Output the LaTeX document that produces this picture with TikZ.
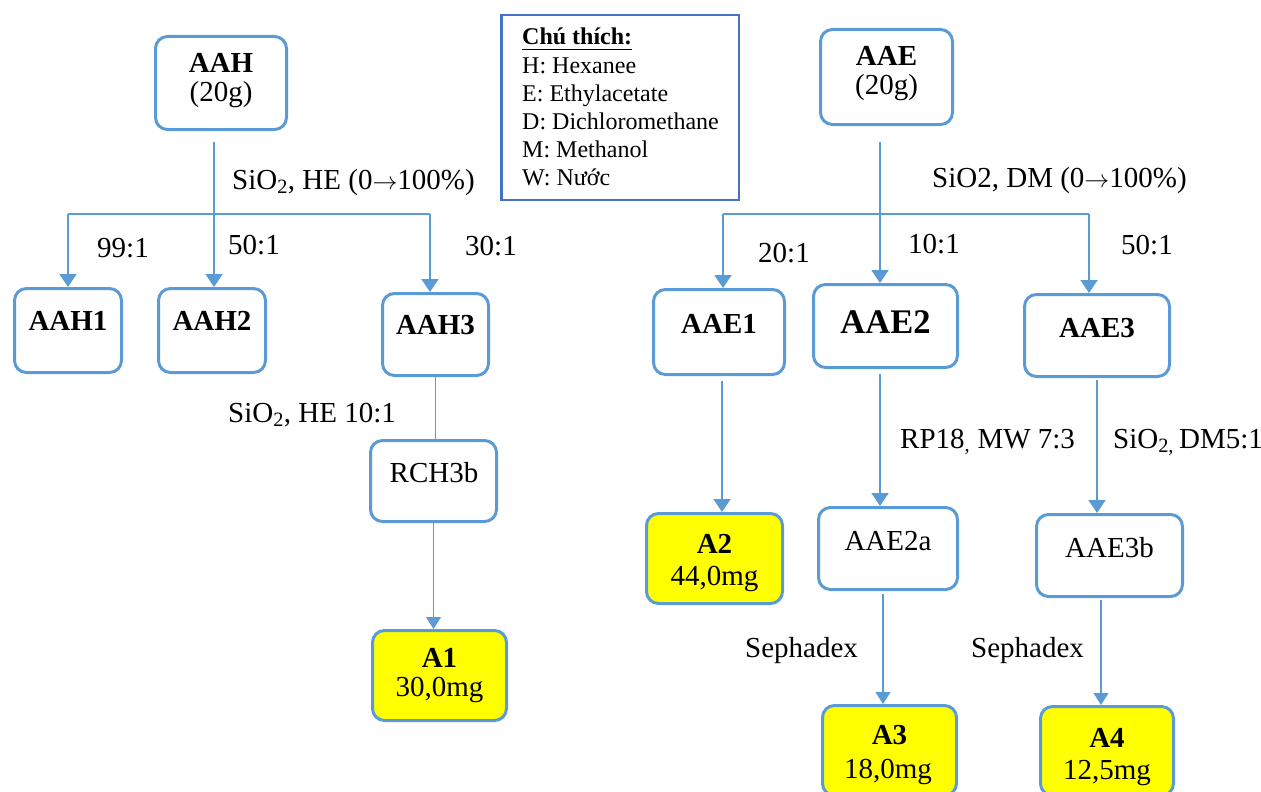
\documentclass[tikz,border=0pt]{standalone}
\usepackage{fontspec}
\setmainfont{Liberation Serif}
\usetikzlibrary{arrows.meta}
\definecolor{boxc}{HTML}{5B9BD5}
\definecolor{legc}{HTML}{4472C4}
\definecolor{yel}{HTML}{FFFF00}
\newcommand{\rarr}{\ensuremath{\rightarrow}}
\begin{document}
\begin{tikzpicture}[x=1pt,y=-1pt,
  box/.style={draw=boxc, line width=3pt, rounded corners=12pt, fill=white, inner sep=0pt},
  ybox/.style={box, fill=yel},
  txt/.style={font=\fontsize{29}{31}\selectfont, inner sep=0pt, anchor=base},
  btxt/.style={font=\fontsize{29}{31}\selectfont\bfseries, inner sep=0pt, anchor=base},
  bigtxt/.style={font=\fontsize{34.5}{36}\selectfont\bfseries, inner sep=0pt, anchor=base},
  lbl/.style={font=\fontsize{29}{31}\selectfont, inner sep=0pt, anchor=base west},
  legtxt/.style={font=\fontsize{24}{26}\selectfont, inner sep=0pt, anchor=base west},
  arr/.style={draw=boxc, line width=2pt, -{Triangle[width=17pt,length=13pt]}},
  tarr/.style={draw=boxc, line width=1.1pt, -{Triangle[width=15pt,length=12pt]}},
  tline/.style={draw=boxc, line width=1.1pt},
  bus/.style={draw=boxc, line width=2pt}]
\useasboundingbox (0,0) rectangle (1261,792);

% ---- left tree boxes ----
\node[box, minimum width=131pt, minimum height=93pt] (aah) at (221,83) {};
\node[btxt] (aaht) at (221,73) {AAH};
\node[txt] (aahm) at (221,101) {(20g)};

\node[box, minimum width=107pt, minimum height=84pt] (aah1) at (68,330.5) {};
\node[btxt] (aah1t) at (68,330) {AAH1};
\node[box, minimum width=107pt, minimum height=84pt] (aah2) at (212,330.5) {};
\node[btxt] (aah2t) at (212,330) {AAH2};
\node[box, minimum width=106pt, minimum height=82pt] (aah3) at (435.5,334.5) {};
\node[btxt] (aah3t) at (435.5,334) {AAH3};

\node[box, minimum width=126pt, minimum height=81pt] (rch) at (433.5,481) {};
\node[txt] (rcht) at (434,482) {RCH3b};

\node[ybox, minimum width=134pt, minimum height=90pt] (a1) at (439.5,675.5) {};
\node[btxt] (a1t) at (439.5,667) {A1};
\node[txt] (a1m) at (439.5,696) {30,0mg};

% ---- legend ----
\node[draw=legc, line width=2.5pt, fill=white, minimum width=237.5pt, minimum height=184.5pt, inner sep=0pt] (leg) at (620,107.5) {};
\node[legtxt, font=\fontsize{24}{26}\selectfont\bfseries] (leg0) at (522,45) {Chú thích:};
\draw[line width=1.3pt] ([yshift=-4.5pt]leg0.base west) -- ([yshift=-4.5pt]leg0.base east);
\node[legtxt] (leg1) at (522,74) {H: Hexanee};
\node[legtxt] (leg2) at (522,102) {E: Ethylacetate};
\node[legtxt] (leg3) at (522,129) {D: Dichloromethane};
\node[legtxt] (leg4) at (522,157) {M: Methanol};
\node[legtxt] (leg5) at (522,185) {W: Nước};

% ---- right tree boxes ----
\node[box, minimum width=132pt, minimum height=95pt] (aae) at (886.5,77) {};
\node[btxt] (aaet) at (886.5,66) {AAE};
\node[txt] (aaem) at (886.5,95) {(20g)};

\node[box, minimum width=131pt, minimum height=85pt] (aae1) at (719,332) {};
\node[btxt] (aae1t) at (719,333) {AAE1};
\node[box, minimum width=144pt, minimum height=83pt] (aae2) at (885.5,326) {};
\node[bigtxt] (aae2t) at (885.5,333) {AAE2};
\node[box, minimum width=145pt, minimum height=82pt] (aae3) at (1097,335.5) {};
\node[btxt] (aae3t) at (1097,337) {AAE3};

\node[ybox, minimum width=136pt, minimum height=90pt] (a2) at (714.5,558.5) {};
\node[btxt] (a2t) at (714.5,553) {A2};
\node[txt] (a2m) at (714.5,585) {44,0mg};

\node[box, minimum width=139pt, minimum height=82pt] (aae2a) at (888,548.5) {};
\node[txt] (aae2at) at (888,550) {AAE2a};
\node[box, minimum width=146pt, minimum height=82pt] (aae3b) at (1109.5,555.5) {};
\node[txt] (aae3bt) at (1109.5,557) {AAE3b};

\node[ybox, minimum width=134pt, minimum height=90pt] (a3) at (889.5,750.5) {};
\node[btxt] (a3t) at (889.5,744) {A3};
\node[txt] (a3m) at (888,778) {18,0mg};
\node[ybox, minimum width=133pt, minimum height=89pt] (a4) at (1107,751) {};
\node[btxt] (a4t) at (1107,747) {A4};
\node[txt] (a4m) at (1107,779) {12,5mg};

% ---- labels ----
\node[lbl] (l1) at (232,189) {SiO\textsubscript{2}, HE (0\rarr100\%)};
\node[lbl] (l2) at (97,257) {99:1};
\node[lbl] (l3) at (228,254) {50:1};
\node[lbl] (l4) at (465,255) {30:1};
\node[lbl] (l5) at (228,422) {SiO\textsubscript{2}, HE 10:1};
\node[lbl] (l6) at (932,187) {SiO2, DM (0\rarr100\%)};
\node[lbl] (l7) at (758,262) {20:1};
\node[lbl] (l8) at (908,253) {10:1};
\node[lbl] (l9) at (1121,254) {50:1};
\node[lbl] (l10) at (900,448) {RP18\textsubscript{,} MW 7:3};
\node[lbl] (l11) at (1113,448) {SiO\textsubscript{2, }DM5:1};
\node[lbl] (l12) at (745,657) {Sephadex};
\node[lbl] (l13) at (971,657) {Sephadex};

% ---- connectors left ----
\coordinate (hL) at (68,214);
\coordinate (hR) at (430,214);
\draw[bus] (hL) -- (hR);
\coordinate (aahout) at ([xshift=-7pt,yshift=-11pt]aah.south);
\draw[arr] (aahout) -- (aahout |- aah2.north);
\draw[arr] (hL) -- (hL |- aah1.north);
\draw[arr] (hR) -- (hR |- aah3.north);
\draw[tline] (aah3.south) -- (aah3.south |- rch.north);
\draw[tarr] (rch.south) -- (rch.south |- a1.north);

% ---- connectors right ----
\coordinate (eL) at (723,214);
\coordinate (eR) at (1089,214);
\draw[bus] (eL) -- (eR);
\coordinate (aaeout) at ([xshift=-6.5pt,yshift=-16pt]aae.south);
\draw[arr] (aaeout) -- (aaeout |- aae2.north);
\draw[arr] (eL) -- (eL |- aae1.north);
\draw[arr] (eR) -- (eR |- aae3.north);
\coordinate (e1o) at ([xshift=3pt,yshift=-5pt]aae1.south);
\draw[arr] (e1o) -- (e1o |- a2.north);
\coordinate (e2o) at ([xshift=-5.5pt,yshift=-5pt]aae2.south);
\draw[arr] (e2o) -- (e2o |- aae2a.north);
\coordinate (e3o) at ([yshift=-2pt]aae3.south);
\draw[arr] (e3o) -- (e3o |- aae3b.north);
\coordinate (e2ao) at ([xshift=-5pt,yshift=-3pt]aae2a.south);
\draw[tarr] (e2ao) -- (e2ao |- a3.north);
\coordinate (e3bo) at ([xshift=-8.5pt,yshift=-2pt]aae3b.south);
\draw[tarr] (e3bo) -- (e3bo |- a4.north);
\end{tikzpicture}
\end{document}
